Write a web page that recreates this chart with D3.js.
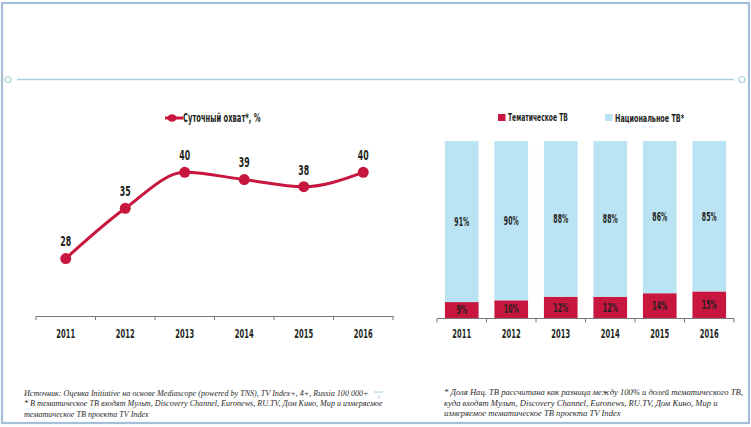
<!DOCTYPE html>
<html><head><meta charset="utf-8">
<script src="https://cdn.jsdelivr.net/npm/d3@7"></script>
<style>body{margin:0;background:#fff}svg{display:block}</style>
</head><body>
<svg id="c" width="751" height="427"></svg>
<script>
// ---- data ----
const lineYears = ["2011","2012","2013","2014","2015","2016"];
const reach = [28, 35, 40, 39, 38, 40];
const barYears = ["2011","2012","2013","2014","2015","2016"];
const thematic = [9, 10, 12, 12, 14, 15];
const national = [91, 90, 88, 88, 86, 85];
const lineLegend = "Суточный охват*, %";
const barLegend = ["Тематическое ТВ", "Национальное ТВ*"];
const noteLeft = [
  "Источник: Оценка Initiative на основе Mediascope (powered by TNS), TV Index+, 4+, Russia 100 000+",
  "* В тематическое ТВ входят Мульт, Discovery Channel, Euronews, RU.TV, Дом Кино, Мир и измеряемое",
  "тематическое ТВ проекта TV Index"
];
const noteRight = [
  "* Доля Нац. ТВ рассчитана как разница между 100% и долей тематического ТВ,",
  "куда входят Мульт, Discovery Channel, Euronews, RU.TV, Дом Кино, Мир и",
  "измеряемое тематическое ТВ проекта TV Index"
];

const RED = "#c8173e", BLUE = "#bae3f3", DARK = "#231f20";
const COND = "'Liberation Sans Narrow','Arial Narrow','DejaVu Sans Condensed',sans-serif";
const svg = d3.select("#c");

function ctext(g, x, y, str, size, sx, anchor) {
  return g.append("text")
    .attr("transform", `translate(${x},${y}) scale(${sx},1)`)
    .attr("text-anchor", anchor || "middle")
    .attr("dominant-baseline", "central")
    .attr("font-family", COND).attr("font-weight", "bold")
    .attr("font-size", size).attr("fill", DARK).text(str);
}

// frame
svg.append("rect").attr("x", 2).attr("y", 3).attr("width", 747).attr("height", 420)
  .attr("fill", "none").attr("stroke", "#a7bedb").attr("stroke-width", 2.2);
// separator
svg.append("line").attr("x1", 17).attr("x2", 734).attr("y1", 79.5).attr("y2", 79.5)
  .attr("stroke", "#a9d3de").attr("stroke-width", 1.5);
[8, 742].forEach(cx => svg.append("circle").attr("cx", cx).attr("cy", 79.5).attr("r", 3)
  .attr("fill", "#fff").attr("stroke", "#a9d3de").attr("stroke-width", 1.2));

// ---- line chart ----
const x1 = d3.scaleBand().domain(lineYears).range([36, 393]);
const y1 = d3.scaleLinear().domain([20, 42]).range([316, 158]);
const gL = svg.append("g");
const axL = gL.append("g").attr("transform", "translate(0,316)")
  .call(d3.axisBottom(x1).tickSize(0).tickPadding(0).tickFormat(""));
axL.select(".domain").attr("stroke", "#777").attr("stroke-width", 1);
const edgesL = lineYears.map(d => x1(d)).concat([x1.range()[1]]);
gL.selectAll(".tk").data(edgesL).join("line").attr("x1", d => d).attr("x2", d => d)
  .attr("y1", 316).attr("y2", 320).attr("stroke", "#777");
lineYears.forEach(d => ctext(gL, x1(d) + x1.bandwidth() / 2, 333, d, 12.5, 0.6));

const pts = lineYears.map((d, i) => [x1(d) + x1.bandwidth() / 2, y1(reach[i])]);
gL.append("path").attr("d", d3.line().curve(d3.curveMonotoneX)(pts))
  .attr("fill", "none").attr("stroke", RED).attr("stroke-width", 3);
pts.forEach((p, i) => {
  gL.append("circle").attr("cx", p[0]).attr("cy", p[1]).attr("r", 5.5).attr("fill", RED);
  ctext(gL, p[0], p[1] - 17, reach[i], 14.5, 0.6);
});
// legend
gL.append("line").attr("x1", 165).attr("x2", 183).attr("y1", 118).attr("y2", 118)
  .attr("stroke", RED).attr("stroke-width", 3);
gL.append("ellipse").attr("cx", 172).attr("cy", 118).attr("rx", 4.5).attr("ry", 3.8).attr("fill", RED);
ctext(gL, 183, 118, lineLegend, 13, 0.58, "start");

// ---- bar chart ----
const x2 = d3.scaleBand().domain(barYears).range([437, 734]).paddingInner(0.32).paddingOuter(0.16);
const y2 = d3.scaleLinear().domain([0, 100]).range([318, 141]);
const gB = svg.append("g");
const stack = d3.stack().keys(["thematic", "national"])(
  barYears.map((d, i) => ({ year: d, thematic: thematic[i], national: national[i] })));
const colors = [RED, BLUE];
stack.forEach((layer, li) => {
  gB.selectAll(".b" + li).data(layer).join("rect")
    .attr("x", d => x2(d.data.year)).attr("width", x2.bandwidth())
    .attr("y", d => y2(d[1])).attr("height", d => y2(d[0]) - y2(d[1]))
    .attr("fill", colors[li]);
  layer.forEach(d => ctext(gB, x2(d.data.year) + x2.bandwidth() / 2, (y2(d[0]) + y2(d[1])) / 2,
    (d[1] - d[0]) + "%", 12.5, 0.55));
});
gB.append("line").attr("x1", 437).attr("x2", 734).attr("y1", 318.5).attr("y2", 318.5)
  .attr("stroke", "#777");
const step = (734 - 437) / barYears.length;
d3.range(barYears.length + 1).forEach(i => gB.append("line")
  .attr("x1", 437 + i * step).attr("x2", 437 + i * step).attr("y1", 318.5).attr("y2", 322.5)
  .attr("stroke", "#777"));
barYears.forEach(d => ctext(gB, x2(d) + x2.bandwidth() / 2, 333, d, 12.5, 0.6));
// legend
gB.append("rect").attr("x", 498).attr("y", 114).attr("width", 7.5).attr("height", 7).attr("fill", RED);
ctext(gB, 508, 117.5, barLegend[0], 11, 0.61, "start");
gB.append("rect").attr("x", 605).attr("y", 114).attr("width", 7.5).attr("height", 7).attr("fill", BLUE);
ctext(gB, 615, 117.5, barLegend[1], 11, 0.65, "start");

// ---- footnotes ----
const SERIF = "'Liberation Serif','DejaVu Serif',serif";
noteLeft.forEach((t, i) => svg.append("text").attr("x", 24).attr("y", 396 + i * 10.3)
  .attr("font-family", SERIF).attr("font-style", "italic").attr("font-size", 8.1)
  .attr("fill", "#2a2a2a").text(t));
noteRight.forEach((t, i) => svg.append("text").attr("x", 444).attr("y", 395 + i * 10.5)
  .attr("font-family", SERIF).attr("font-style", "italic").attr("font-size", 8.6)
  .attr("fill", "#2a2a2a").text(t));
// page marker
svg.append("line").attr("x1", 374).attr("x2", 383).attr("y1", 392).attr("y2", 392)
  .attr("stroke", "#a9d3de").attr("stroke-width", 1);
svg.append("text").attr("x", 378.5).attr("y", 398).attr("text-anchor", "middle")
  .attr("font-family", SERIF).attr("font-size", 5).attr("fill", "#9bbcd0").text("4");
</script>
</body></html>
